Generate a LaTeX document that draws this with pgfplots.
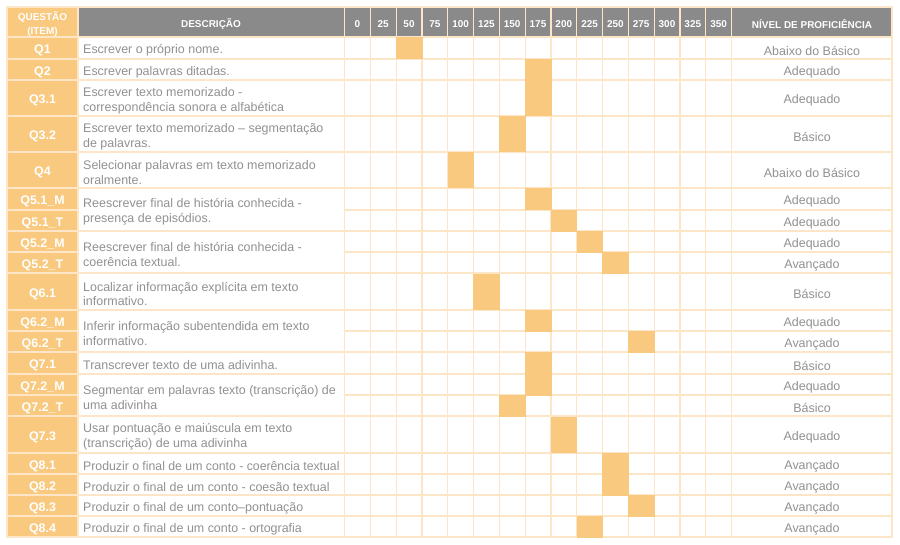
\documentclass[border=0pt]{standalone}
\usepackage{fontspec}
\setmainfont{Liberation Sans}
\usepackage{pgfplots}
\pgfplotsset{compat=1.18}
\usepackage{pgfplotstable}
\definecolor{qorange}{HTML}{F9C97F}
\definecolor{hgray}{HTML}{8A8A8A}
\definecolor{gridc}{HTML}{FDE5C7}
\definecolor{txt}{HTML}{919191}

% filled cells: row top, row bottom (pixels), score
\pgfplotstableread{
item   ytop ybot score
Q1     37   59   50
Q2     59   80   175
Q5.1_M 188  210  175
Q5.1_T 210  231  200
Q5.2_M 231  252  225
Q5.2_T 252  273  250
Q6.2_M 310  331  175
Q6.2_T 331  352  275
Q7.1   352  374  175
Q7.2_M 374  395  175
Q7.2_T 395  416  150
Q8.1   453  474  250
Q8.2   474  495  250
Q8.3   495  516  275
Q8.4   516  537  225
}\singlerows
\pgfplotstableread{
item   ytop ybot score
Q3.1   80   116  175
Q3.2   116  152  150
Q4     152  188  100
Q6.1   273  310  125
Q7.3   416  453  200
}\doublerows

\begin{document}
\begin{tikzpicture}[
  desc/.style={anchor=west, align=left, font=\fontsize{12.5}{15}\selectfont, text=txt, inner sep=0pt, yshift=-2.5bp},
  lvl/.style={anchor=center, font=\fontsize{12.5}{15}\selectfont, text=txt, inner sep=0pt, yshift=-2.5bp},
  qlab/.style={anchor=center, font=\fontsize{12.5}{15}\selectfont\bfseries, text=white, inner sep=0pt, yshift=-2.5bp},
  hdr/.style={anchor=center, align=center, font=\fontsize{10}{13.5}\selectfont\bfseries, text=white, inner sep=0pt, yshift=-2bp},
  gl/.style={draw=gridc, line width=1.2bp},
]
\begin{axis}[
  x=1bp, y=1bp,
  xmin=0, xmax=900, ymin=0, ymax=545,
  y dir=reverse,
  hide axis, clip=false,
]
\fill[white] (axis cs:0,0) rectangle (axis cs:900,545);
% header and question column fills
\fill[qorange] (axis cs:7,7) rectangle (axis cs:78,537);
\fill[hgray] (axis cs:78,7) rectangle (axis cs:892,37);

% filled cells
\addplot[only marks, mark=square*, mark size=10bp, color=qorange,
  mark options={draw=none, fill=qorange, xscale=1.28, yscale=1.05}]
  table[x expr={344.5+(\thisrow{score}/25+0.5)*25.8}, y expr={(\thisrow{ytop}+\thisrow{ybot})/2}] {\singlerows};
\addplot[only marks, mark=square*, mark size=10bp, color=qorange,
  mark options={draw=none, fill=qorange, xscale=1.28, yscale=1.77}]
  table[x expr={344.5+(\thisrow{score}/25+0.5)*25.8}, y expr={(\thisrow{ytop}+\thisrow{ybot})/2}] {\doublerows};

% vertical grid lines
\draw[gl] (axis cs:78,7) -- (axis cs:78,537);
\pgfplotsinvokeforeach{0,...,15}{
  \draw[gl] (axis cs:{344.5+#1*25.8},7) -- (axis cs:{344.5+#1*25.8},537);
}
% horizontal grid lines (full)
\pgfplotsinvokeforeach{37,59,80,116,152,188,231,273,310,352,374,416,453,474,495,516}{
  \draw[gl] (axis cs:7,#1) -- (axis cs:892,#1);
}
% horizontal grid lines (not through merged description cells)
\pgfplotsinvokeforeach{210,252,331,395}{
  \draw[gl] (axis cs:7,#1) -- (axis cs:78,#1);
  \draw[gl] (axis cs:344.5,#1) -- (axis cs:892,#1);
}
% outer border
\draw[draw=gridc, line width=2bp] (axis cs:7,7) rectangle (axis cs:892,537);

% header text
\node[hdr] at (axis cs:42.5,22) {QUESTÃO\\(ITEM)};
\node[hdr] at (axis cs:211,22) {DESCRIÇÃO};
\node[hdr] at (axis cs:812,22) {NÍVEL DE PROFICIÊNCIA};
\pgfplotsinvokeforeach{0,25,50,75,100,125,150,175,200,225,250,275,300,325,350}{
  \node[hdr] at (axis cs:{344.5+(#1/25+0.5)*25.8},22) {#1};
}

% question labels
\node[qlab] at (axis cs:42.5,48) {Q1};
\node[qlab] at (axis cs:42.5,69.5) {Q2};
\node[qlab] at (axis cs:42.5,98) {Q3.1};
\node[qlab] at (axis cs:42.5,134) {Q3.2};
\node[qlab] at (axis cs:42.5,170) {Q4};
\node[qlab] at (axis cs:42.5,199) {Q5.1\_M};
\node[qlab] at (axis cs:42.5,220.5) {Q5.1\_T};
\node[qlab] at (axis cs:42.5,241.5) {Q5.2\_M};
\node[qlab] at (axis cs:42.5,262.5) {Q5.2\_T};
\node[qlab] at (axis cs:42.5,291.5) {Q6.1};
\node[qlab] at (axis cs:42.5,320.5) {Q6.2\_M};
\node[qlab] at (axis cs:42.5,341.5) {Q6.2\_T};
\node[qlab] at (axis cs:42.5,363) {Q7.1};
\node[qlab] at (axis cs:42.5,384.5) {Q7.2\_M};
\node[qlab] at (axis cs:42.5,405.5) {Q7.2\_T};
\node[qlab] at (axis cs:42.5,434.5) {Q7.3};
\node[qlab] at (axis cs:42.5,463.5) {Q8.1};
\node[qlab] at (axis cs:42.5,484.5) {Q8.2};
\node[qlab] at (axis cs:42.5,505.5) {Q8.3};
\node[qlab] at (axis cs:42.5,526.5) {Q8.4};

% descriptions
\node[desc] at (axis cs:83,48) {Escrever o próprio nome.};
\node[desc] at (axis cs:83,69.5) {Escrever palavras ditadas.};
\node[desc] at (axis cs:83,98) {Escrever texto memorizado -\\correspondência sonora e alfabética};
\node[desc] at (axis cs:83,134) {Escrever texto memorizado – segmentação\\de palavras.};
\node[desc] at (axis cs:83,170) {Selecionar palavras em texto memorizado\\oralmente.};
\node[desc] at (axis cs:83,209.5) {Reescrever final de história conhecida -\\presença de episódios.};
\node[desc] at (axis cs:83,252) {Reescrever final de história conhecida -\\coerência textual.};
\node[desc] at (axis cs:83,291.5) {Localizar informação explícita em texto\\informativo.};
\node[desc] at (axis cs:83,331) {Inferir informação subentendida em texto\\informativo.};
\node[desc] at (axis cs:83,363) {Transcrever texto de uma adivinha.};
\node[desc] at (axis cs:83,395) {Segmentar em palavras texto (transcrição) de\\uma adivinha};
\node[desc] at (axis cs:83,434.5) {Usar pontuação e maiúscula em texto\\(transcrição) de uma adivinha};
\node[desc, xscale=0.985] at (axis cs:83,463.5) {Produzir o final de um conto - coerência textual};
\node[desc] at (axis cs:83,484.5) {Produzir o final de um conto - coesão textual};
\node[desc] at (axis cs:83,505.5) {Produzir o final de um conto–pontuação};
\node[desc] at (axis cs:83,526.5) {Produzir o final de um conto - ortografia};

% levels
\node[lvl] at (axis cs:812,48) {Abaixo do Básico};
\node[lvl] at (axis cs:812,69.5) {Adequado};
\node[lvl] at (axis cs:812,98) {Adequado};
\node[lvl] at (axis cs:812,134) {Básico};
\node[lvl] at (axis cs:812,170) {Abaixo do Básico};
\node[lvl] at (axis cs:812,199) {Adequado};
\node[lvl] at (axis cs:812,220.5) {Adequado};
\node[lvl] at (axis cs:812,241.5) {Adequado};
\node[lvl] at (axis cs:812,262.5) {Avançado};
\node[lvl] at (axis cs:812,291.5) {Básico};
\node[lvl] at (axis cs:812,320.5) {Adequado};
\node[lvl] at (axis cs:812,341.5) {Avançado};
\node[lvl] at (axis cs:812,363) {Básico};
\node[lvl] at (axis cs:812,384.5) {Adequado};
\node[lvl] at (axis cs:812,405.5) {Básico};
\node[lvl] at (axis cs:812,434.5) {Adequado};
\node[lvl] at (axis cs:812,463.5) {Avançado};
\node[lvl] at (axis cs:812,484.5) {Avançado};
\node[lvl] at (axis cs:812,505.5) {Avançado};
\node[lvl] at (axis cs:812,526.5) {Avançado};
\end{axis}
\end{tikzpicture}
\end{document}
